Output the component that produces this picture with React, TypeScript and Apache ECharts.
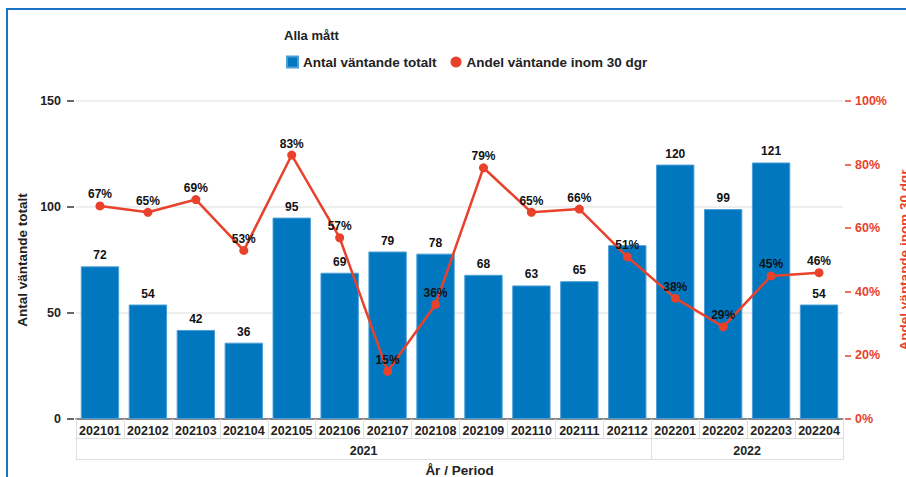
import React, { useEffect, useRef } from "react";
import * as echarts from "echarts";

const periods = [
  "202101", "202102", "202103", "202104", "202105", "202106", "202107", "202108",
  "202109", "202110", "202111", "202112", "202201", "202202", "202203", "202204",
];
const totalWaiting = [72, 54, 42, 36, 95, 69, 79, 78, 68, 63, 65, 82, 120, 99, 121, 54];
const shareWithin30 = [67, 65, 69, 53, 83, 57, 15, 36, 79, 65, 66, 51, 38, 29, 45, 46];
const years = ["2021", "2022"];
const yearSpans = [12, 4];
const leftTicks = [0, 50, 100, 150];
const rightTicks = [0, 20, 40, 60, 80, 100];

const FONT = "'Liberation Sans', Arial, sans-serif";
const RED = "#e8412c";
const BLUE = "#0077be";
const GRIDC = "#dedede";

export default function App() {
  const ref = useRef<HTMLDivElement>(null);
  useEffect(() => {
    document.body.style.margin = "0";
    document.body.style.overflow = "hidden";
    if (!ref.current) return;
    const chart = echarts.init(ref.current, undefined, { renderer: "svg" });

    const bounds: number[] = [0];
    yearSpans.forEach((s) => bounds.push(bounds[bounds.length - 1] + s));
    const centers = yearSpans.map((s, i) => bounds[i] + s / 2);
    const n = periods.length;

    const leftMax = leftTicks[leftTicks.length - 1];
    const rightMax = rightTicks[rightTicks.length - 1];
    // hide a bar label when it would collide with the line label of the same period
    const plotH = 318;
    const barLabelHidden = totalWaiting.map((v, i) => {
      const barTop = plotH * (1 - v / leftMax);
      const pt = plotH * (1 - shareWithin30[i] / rightMax);
      const b0 = barTop - 18, b1 = barTop - 6;
      const l0 = pt - 19, l1 = pt - 5;
      return b0 < l1 && l0 < b1;
    });

    const bold = { fontFamily: FONT, fontWeight: "bold" as const, fontSize: 12.5, color: "#222" };

    chart.setOption({
      animation: false,
      title: {
        text: "Alla mått",
        left: 279,
        top: 24,
        textStyle: { ...bold, fontSize: 13 },
      },
      legend: {
        left: 281,
        top: 50,
        itemWidth: 11,
        itemHeight: 11,
        itemGap: 14,
        textStyle: { ...bold, fontSize: 13.5 },
        data: [
          { name: "Antal väntande totalt", icon: "rect" },
          { name: "Andel väntande inom 30 dgr", icon: "circle" },
        ],
      },
      grid: { left: 76, right: 63, top: 101, bottom: 58, containLabel: false, outerBoundsMode: "none" },
      xAxis: [
        {
          type: "category",
          data: periods,
          position: "bottom",
          axisLine: { show: true, onZero: false, lineStyle: { color: "#666", width: 1.5 } },
          axisTick: { show: true, alignWithLabel: false, length: 19, lineStyle: { color: GRIDC } },
          axisLabel: { ...bold, margin: 5, interval: 0 },
          splitLine: { show: false },
        },
        {
          type: "value",
          min: 0,
          max: n,
          position: "bottom",
          offset: 19,
          axisLine: { show: true, onZero: false, lineStyle: { color: GRIDC } },
          axisTick: { show: true, customValues: bounds, length: 21, lineStyle: { color: GRIDC } },
          axisLabel: {
            ...bold,
            margin: 6,
            customValues: centers,
            formatter: (v: number) => {
              const i = centers.indexOf(v);
              return i >= 0 ? years[i] : "";
            },
          },
          splitLine: { show: false },
        },
        {
          type: "value",
          min: 0,
          max: n,
          position: "bottom",
          offset: 40,
          axisLine: { show: true, onZero: false, lineStyle: { color: GRIDC } },
          axisTick: { show: false },
          axisLabel: { show: false },
          splitLine: { show: false },
          name: "År / Period",
          nameLocation: "middle",
          nameGap: 4,
          nameTextStyle: { ...bold, fontSize: 13.5, verticalAlign: "top" },
        },
      ],
      yAxis: [
        {
          type: "value",
          min: leftTicks[0],
          max: leftMax,
          interval: leftTicks[1] - leftTicks[0],
          position: "left",
          offset: 2,
          axisLine: { show: false, onZero: false },
          axisTick: { show: true, length: 7, lineStyle: { color: "#333", width: 1.5 } },
          axisLabel: { ...bold, margin: 13 },
          splitLine: { show: true, lineStyle: { color: "#e8e8e8", width: 1.5 } },
          name: "Antal väntande totalt",
          nameLocation: "middle",
          nameGap: 44,
          nameRotate: 90,
          nameTextStyle: { ...bold, fontSize: 13.5 },
        },
        {
          type: "value",
          min: rightTicks[0],
          max: rightMax,
          interval: rightTicks[1] - rightTicks[0],
          position: "right",
          offset: 2,
          axisLine: { show: false, onZero: false },
          axisTick: { show: true, length: 6, lineStyle: { color: RED, width: 1.5 } },
          axisLabel: { ...bold, color: RED, margin: 10, formatter: "{value}%" },
          splitLine: { show: false },
          name: "Andel väntande inom 30 dgr",
          nameLocation: "middle",
          nameGap: 52,
          nameRotate: 90,
          nameTextStyle: { ...bold, fontSize: 13.5, color: RED },
        },
      ],
      series: [
        {
          name: "Antal väntande totalt",
          type: "bar",
          xAxisIndex: 0,
          yAxisIndex: 0,
          data: totalWaiting,
          barWidth: "80%",
          itemStyle: { color: BLUE, borderColor: "#4a9ed6", borderWidth: 1 },
          label: {
            show: true,
            position: "top",
            distance: 5,
            ...bold,
            fontSize: 12,
            color: "#111",
            formatter: (p: any) => (barLabelHidden[p.dataIndex] ? "" : String(p.value)),
          },
          z: 2,
        },
        {
          name: "Andel väntande inom 30 dgr",
          type: "line",
          xAxisIndex: 0,
          yAxisIndex: 1,
          data: shareWithin30,
          symbol: "circle",
          symbolSize: 9,
          lineStyle: { color: RED, width: 2.5 },
          itemStyle: { color: RED },
          label: { show: true, position: "top", distance: 1, ...bold, fontSize: 12, color: "#111", formatter: "{c}%" },
          z: 5,
        },
      ],
    });
    return () => chart.dispose();
  }, []);

  return (
    <div style={{ position: "relative", width: 906, height: 477, overflow: "hidden", background: "#fff" }}>
      <div
        style={{
          position: "absolute",
          left: 6,
          top: 8,
          width: 1200,
          height: 1200,
          borderTop: "2px solid #1a73c4",
          borderLeft: "2px solid #1a73c4",
        }}
      />
      <div ref={ref} style={{ position: "absolute", left: 0, top: 0, width: 906, height: 477 }} />
    </div>
  );
}
